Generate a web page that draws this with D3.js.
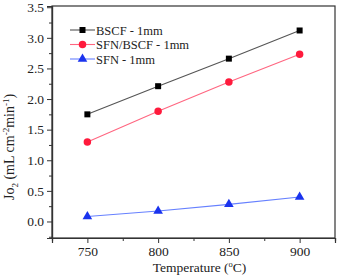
<!DOCTYPE html>
<html>
<head>
<meta charset="utf-8">
<script src="https://d3js.org/d3.v7.min.js"></script>
<style>
  body { margin: 0; background: #fff; }
  text { font-family: "Liberation Serif", "Times New Roman", serif; }
</style>
</head>
<body>
<div id="chart"></div>
<script>
// data
var temps = [750, 800, 850, 900];
var bscf = [1.75, 2.21, 2.66, 3.12];
var sfnBscf = [1.30, 1.80, 2.28, 2.73];
var sfn = [0.08, 0.17, 0.28, 0.40];
var seriesNames = ["BSCF - 1mm", "SFN/BSCF - 1mm", "SFN - 1mm"];
var xTicks = [750, 800, 850, 900];
var yTicks = [0.0, 0.5, 1.0, 1.5, 2.0, 2.5, 3.0, 3.5];

var W = 337, H = 278;
var margin = {top: 6, right: 2, bottom: 40, left: 52};
var width = W - margin.left - margin.right,
    height = H - margin.top - margin.bottom;

var svg = d3.select("#chart").append("svg")
    .attr("width", W).attr("height", H)
  .append("g")
    .attr("transform", "translate(" + margin.left + "," + margin.top + ")");

var x = d3.scaleLinear().domain([725, 925]).range([0, width]);
var y = d3.scaleLinear().domain([-0.27, 3.52]).range([height, 0]);

// frame
svg.append("rect")
    .attr("width", width).attr("height", height)
    .attr("fill", "none").attr("stroke", "#333").attr("stroke-width", 1.2);

// x axis with minor ticks
svg.append("g")
    .attr("transform", "translate(0," + height + ")")
    .call(d3.axisBottom(x).tickValues(xTicks).tickSize(5).tickPadding(3).tickFormat(d3.format("d")));
svg.append("g")
    .attr("transform", "translate(0," + height + ")")
    .call(d3.axisBottom(x).tickValues([775, 825, 875]).tickSize(3).tickFormat(""));

// y axis with minor ticks
svg.append("g")
    .call(d3.axisLeft(y).tickValues(yTicks).tickSize(5).tickPadding(3).tickFormat(d3.format(".1f")));
svg.append("g")
    .call(d3.axisLeft(y).tickValues([-0.25, 0.25, 0.75, 1.25, 1.75, 2.25, 2.75, 3.25]).tickSize(3).tickFormat(""));

svg.selectAll(".domain").attr("stroke", "#333").attr("stroke-width", 1.2);
svg.selectAll(".tick line").attr("stroke", "#333");
svg.selectAll(".tick text")
    .style("font-family", "Liberation Serif").style("font-size", "13.5px").attr("fill", "#222");

// titles
svg.append("text")
    .attr("x", x(825) + 6).attr("y", height + 34)
    .attr("text-anchor", "middle").style("font-size", "13.5px").attr("fill", "#222")
    .html('Temperature (<tspan dy="-5" font-size="8.5">o</tspan><tspan dy="5">C)</tspan>');

svg.append("text")
    .attr("transform", "translate(" + (-38) + "," + (y(1.25) + 2) + ") rotate(-90)")
    .attr("text-anchor", "middle").style("font-size", "14px").attr("fill", "#222")
    .html('Jo<tspan dy="4" font-size="9">2</tspan><tspan dy="-4"> (mL cm</tspan><tspan dy="-5" font-size="9">-2</tspan><tspan dy="5">min</tspan><tspan dy="-5" font-size="9">-1</tspan><tspan dy="5">)</tspan>');

var series = [
  {name: seriesNames[0], vals: bscf, line: "#555", mark: "#000", shape: d3.symbolSquare, size: 36},
  {name: seriesNames[1], vals: sfnBscf, line: "#ff6680", mark: "#ff1a3c", shape: d3.symbolCircle, size: 44},
  {name: seriesNames[2], vals: sfn, line: "#6680ff", mark: "#1a33ee", shape: d3.symbolTriangle, size: 40}
];

var line = d3.line()
    .x(function(d, i) { return x(temps[i]); })
    .y(function(d) { return y(d); });

series.forEach(function(s, k) {
  svg.append("path")
      .datum(s.vals)
      .attr("d", line)
      .attr("fill", "none").attr("stroke", s.line).attr("stroke-width", 1.1);
  svg.selectAll(".m" + k)
      .data(s.vals)
    .enter().append("path")
      .attr("transform", function(d, i) { return "translate(" + x(temps[i]) + "," + y(d) + ")"; })
      .attr("d", d3.symbol().type(s.shape).size(s.size))
      .attr("fill", s.mark);

  // legend
  var ly = 24 + k * 14.5;
  var lg = svg.append("g").attr("transform", "translate(18," + ly + ")");
  lg.append("line").attr("x1", 0).attr("x2", 25).attr("y1", 0).attr("y2", 0)
      .attr("stroke", s.line).attr("stroke-width", 1.1);
  lg.append("path").attr("transform", "translate(12.5,0)")
      .attr("d", d3.symbol().type(s.shape).size(s.size)).attr("fill", s.mark);
  lg.append("text").attr("x", 26).attr("y", 4.5)
      .style("font-size", "12.5px").attr("fill", "#222").text(s.name);
});
</script>
</body>
</html>
